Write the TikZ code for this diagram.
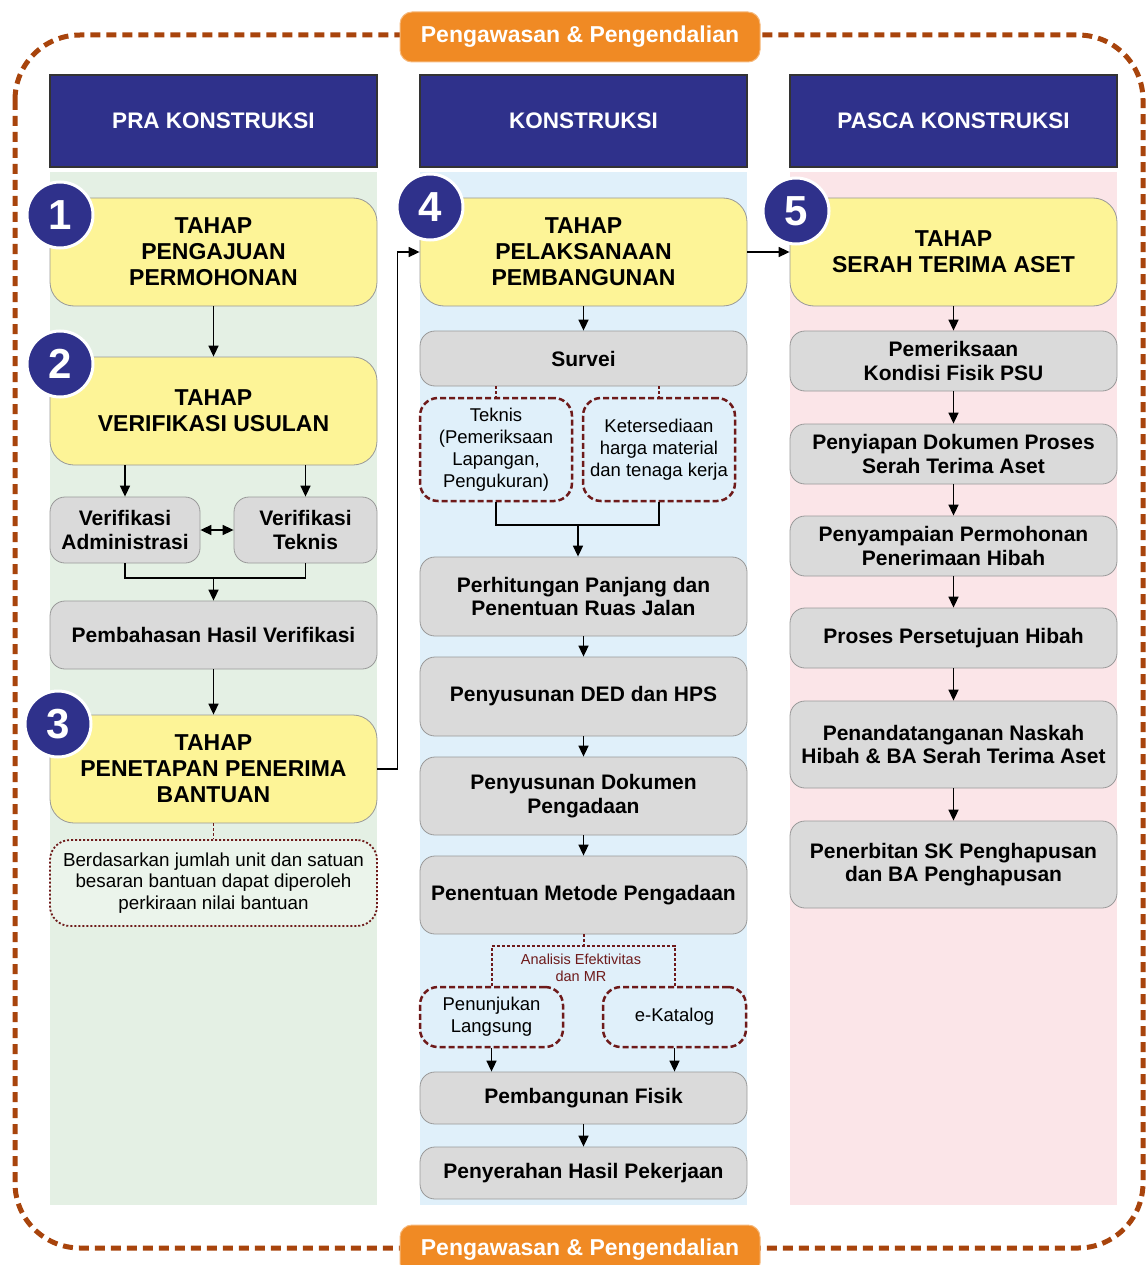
\documentclass[tikz,border=0pt]{standalone}
\usepackage{fontspec}
\setmainfont{Liberation Sans}
\usetikzlibrary{arrows.meta}

\definecolor{navy}{HTML}{2F318B}
\definecolor{stageyellow}{HTML}{FDF497}
\definecolor{boxgray}{HTML}{DADADA}
\definecolor{greenbg}{HTML}{E4F0E4}
\definecolor{bluebg}{HTML}{E0F0FA}
\definecolor{pinkbg}{HTML}{FBE5E8}
\definecolor{ctrlorange}{HTML}{F08A24}
\definecolor{borderbrown}{HTML}{A8440C}
\definecolor{notered}{HTML}{6E1A1A}

\tikzset{
  header/.style={draw=black!80, line width=1.2pt, fill=navy, text=white,
    minimum width=327pt, minimum height=92pt, inner sep=0pt,
    font=\fontsize{22.5}{25}\selectfont\bfseries},
  stage/.style={draw=gray!80, line width=0.8pt, fill=stageyellow,
    rounded corners=24pt, minimum width=327pt, minimum height=108pt,
    inner sep=0pt, align=center, font=\fontsize{23}{26}\selectfont\bfseries},
  stepbox/.style={draw=gray!80, line width=0.8pt, fill=boxgray,
    rounded corners=15pt, minimum width=327pt, inner sep=0pt, align=center,
    font=\fontsize{21}{23.5}\selectfont\bfseries},
  option/.style={draw=notered, line width=2.5pt, dash pattern=on 6pt off 3pt,
    fill=bluebg, rounded corners=18pt, inner sep=0pt, align=center,
    font=\fontsize{18.5}{22}\selectfont},
  remark/.style={draw=notered, line width=1.8pt, dash pattern=on 2pt off 2pt,
    fill=greenbg!75!white, rounded corners=20pt, inner sep=0pt, align=center,
    minimum width=327pt, minimum height=86pt,
    font=\fontsize{18.8}{21.5}\selectfont},
  badge/.style={circle, fill=navy, draw=white, line width=3pt, text=white,
    minimum size=66pt, inner sep=0pt, font=\fontsize{42}{42}\selectfont\bfseries},
  control/.style={fill=ctrlorange, draw=ctrlorange!60!white, line width=1pt,
    rounded corners=12pt, minimum width=360pt, minimum height=50pt,
    text=white, font=\fontsize{23}{25}\selectfont\bfseries},
  flow/.style={-{Triangle[length=11pt,width=10pt]}, line width=1.6pt},
  link/.style={line width=1.6pt},
  linkdot/.style={notered, line width=2pt, dash pattern=on 3pt off 2pt},
}

\begin{document}
\begin{tikzpicture}[x=1pt, y=-1pt]
  \useasboundingbox (0,0) rectangle (1147,1265);

  % Outer control frame
  \draw[borderbrown, line width=5pt, dash pattern=on 10pt off 6pt,
    rounded corners=65pt] (15,35) rectangle (1143,1248);

  % Column backgrounds
  \fill[greenbg] (50,172) rectangle (377,1205);
  \fill[bluebg] (420,172) rectangle (747,1205);
  \fill[pinkbg] (790,172) rectangle (1117,1205);

  % Control labels
  \node[control] (ctrltop) at (580,37) {Pengawasan \& Pengendalian};
  \node[control] (ctrlbot) at (580,1250) {Pengawasan \& Pengendalian};

  % Headers
  \node[header] (hpra) at (213.5,121) {PRA KONSTRUKSI};
  \node[header] (hkon) at (583.5,121) {KONSTRUKSI};
  \node[header] (hpasca) at (953.5,121) {PASCA KONSTRUKSI};

  % Pra konstruksi
  \node[stage] (pengajuan) at (213.5,252) {TAHAP\\PENGAJUAN\\PERMOHONAN};
  \node[stage] (verifikasi) at (213.5,411) {TAHAP\\VERIFIKASI USULAN};
  \node[stepbox, minimum width=150pt, minimum height=66pt] (vadmin) at (125,530) {Verifikasi\\Administrasi};
  \node[stepbox, minimum width=143pt, minimum height=66pt] (vteknis) at (305.5,530) {Verifikasi\\Teknis};
  \node[stepbox, minimum height=68pt] (pembahasan) at (213.5,635) {Pembahasan Hasil Verifikasi};
  \node[stage] (penetapan) at (213.5,769) {TAHAP\\PENETAPAN PENERIMA\\BANTUAN};
  \node[remark] (catatan) at (213.5,883) {Berdasarkan jumlah unit dan satuan\\besaran bantuan dapat diperoleh\\perkiraan nilai bantuan};

  \draw[flow] (pengajuan) -- (verifikasi);
  \draw[flow] (vadmin.north |- verifikasi.south) -- (vadmin.north);
  \draw[flow] (vteknis.north |- verifikasi.south) -- (vteknis.north);
  \draw[{Triangle[length=11pt,width=10pt]}-{Triangle[length=11pt,width=10pt]}, line width=1.6pt] (vadmin) -- (vteknis);
  \coordinate (vjoin) at (213.5,578);
  \draw[link] (vadmin.south) |- (vjoin) -| (vteknis.south);
  \draw[flow] (vjoin) -- (pembahasan.north);
  \draw[flow] (pembahasan) -- (penetapan);
  \draw[linkdot, line width=1.8pt] (penetapan) -- (catatan);

  % Konstruksi
  \node[stage] (pelaksanaan) at (583.5,252) {TAHAP\\PELAKSANAAN\\PEMBANGUNAN};
  \node[stepbox, minimum height=55pt] (survei) at (583.5,358.5) {Survei};
  \node[option, minimum width=152pt, minimum height=103pt] (teknis) at (496,449.5) {Teknis\\(Pemeriksaan\\Lapangan,\\Pengukuran)};
  \node[option, minimum width=152pt, minimum height=103pt] (harga) at (659,449.5) {Ketersediaan\\harga material\\dan tenaga kerja};
  \node[stepbox, minimum height=79pt] (perhitungan) at (583.5,596.5) {Perhitungan Panjang dan\\Penentuan Ruas Jalan};
  \node[stepbox, minimum height=79pt] (ded) at (583.5,696.5) {Penyusunan DED dan HPS};
  \node[stepbox, minimum height=78pt] (dokumen) at (583.5,796) {Penyusunan Dokumen\\Pengadaan};
  \node[stepbox, minimum height=78pt] (metode) at (583.5,895) {Penentuan Metode Pengadaan};
  \node[text=notered, align=center, inner sep=0pt, font=\fontsize{14.5}{17.5}\selectfont] (analisis) at (581,968) {Analisis Efektivitas\\dan MR};
  \node[option, minimum width=143pt, minimum height=60pt] (penunjukan) at (491.5,1017) {Penunjukan\\Langsung};
  \node[option, minimum width=143pt, minimum height=60pt] (katalog) at (674.5,1017) {e-Katalog};
  \node[stepbox, minimum height=52pt] (fisik) at (583.5,1098) {Pembangunan Fisik};
  \node[stepbox, minimum height=52pt] (penyerahan) at (583.5,1173) {Penyerahan Hasil Pekerjaan};

  \draw[flow] (penetapan.east) -- ++(20,0) |- (pelaksanaan.west);
  \draw[flow] (pelaksanaan) -- (survei);
  \draw[linkdot] (teknis.north |- survei.south) -- (teknis.north);
  \draw[linkdot] (harga.north |- survei.south) -- (harga.north);
  \coordinate (tjoin) at (578,525);
  \draw[link] (teknis.south) |- (tjoin) -| (harga.south);
  \draw[flow] (tjoin) -- (tjoin |- perhitungan.north);
  \draw[flow] (perhitungan) -- (ded);
  \draw[flow] (ded) -- (dokumen);
  \draw[flow] (dokumen) -- (metode);
  \coordinate (mjoin) at (583.5,946);
  \draw[linkdot] (metode.south) -- (mjoin);
  \draw[linkdot] (penunjukan.north) |- (mjoin) -| (katalog.north);
  \draw[flow] (penunjukan.south) -- (penunjukan.south |- fisik.north);
  \draw[flow] (katalog.south) -- (katalog.south |- fisik.north);
  \draw[flow] (fisik) -- (penyerahan);

  % Pasca konstruksi
  \node[stage] (serah) at (953.5,252) {TAHAP\\SERAH TERIMA ASET};
  \node[stepbox, minimum height=60pt] (pemeriksaan) at (953.5,361) {Pemeriksaan\\Kondisi Fisik PSU};
  \node[stepbox, minimum height=60pt] (penyiapan) at (953.5,454) {Penyiapan Dokumen Proses\\Serah Terima Aset};
  \node[stepbox, minimum height=60pt] (penyampaian) at (953.5,546) {Penyampaian Permohonan\\Penerimaan Hibah};
  \node[stepbox, minimum height=60pt] (persetujuan) at (953.5,638) {Proses Persetujuan Hibah};
  \node[stepbox, minimum height=87pt] (naskah) at (953.5,744.5) {Penandatanganan Naskah\\Hibah \& BA Serah Terima Aset};
  \node[stepbox, minimum height=87pt] (penerbitan) at (953.5,864.5) {Penerbitan SK Penghapusan\\dan BA Penghapusan};

  \draw[flow] (pelaksanaan) -- (serah);
  \draw[flow] (serah) -- (pemeriksaan);
  \draw[flow] (pemeriksaan) -- (penyiapan);
  \draw[flow] (penyiapan) -- (penyampaian);
  \draw[flow] (penyampaian) -- (persetujuan);
  \draw[flow] (persetujuan) -- (naskah);
  \draw[flow] (naskah) -- (penerbitan);

  % Stage numbers
  \node[badge] (n1) at (60,215) {1};
  \node[badge] (n2) at (60,364) {2};
  \node[badge] (n3) at (58,724) {3};
  \node[badge] (n4) at (430,207) {4};
  \node[badge] (n5) at (796,211) {5};
\end{tikzpicture}
\end{document}
